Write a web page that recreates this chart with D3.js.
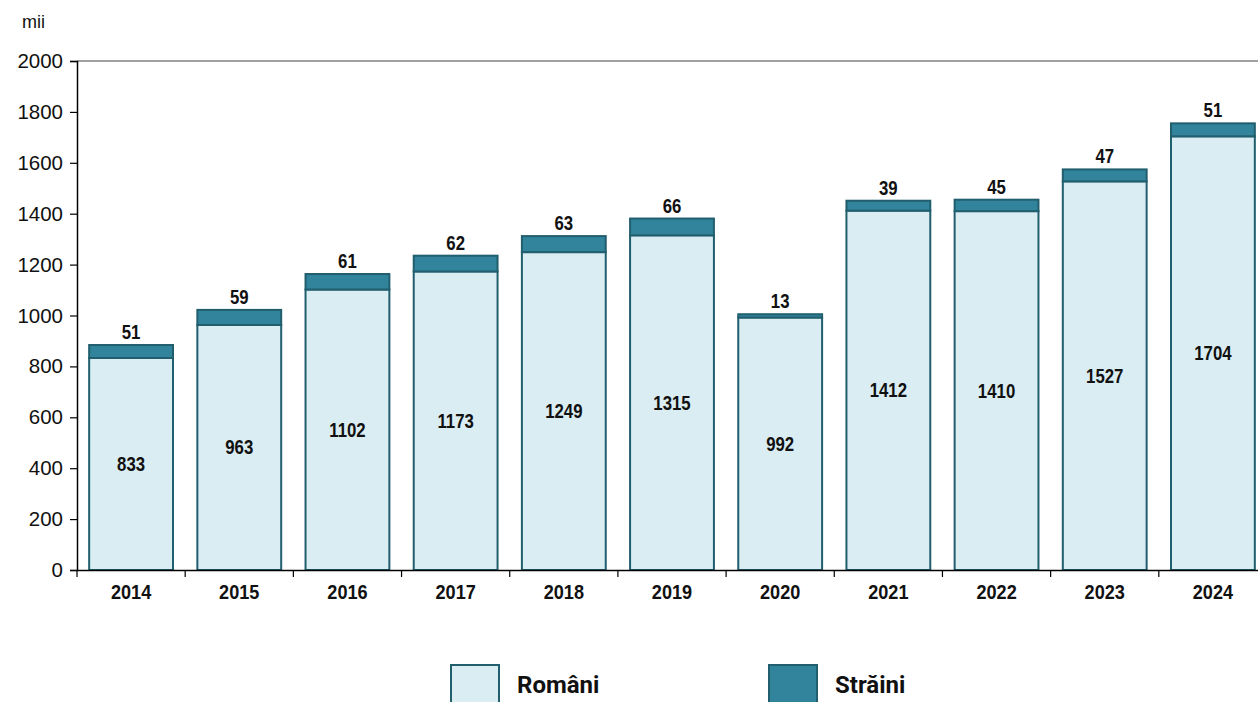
<!DOCTYPE html>
<html><head><meta charset="utf-8">
<script src="https://cdn.jsdelivr.net/npm/d3@7"></script>
<style>
body{margin:0;background:#fff;}
svg{display:block;font-family:"Liberation Sans",Arial,sans-serif;}
</style></head>
<body>
<svg id="c" width="1258" height="702"></svg>
<script>
const years = ["2014","2015","2016","2017","2018","2019","2020","2021","2022","2023","2024"];
const romani = [833,963,1102,1173,1249,1315,992,1412,1410,1527,1704];
const straini = [51,59,61,62,63,66,13,39,45,47,51];
const yTicks = [0,200,400,600,800,1000,1200,1400,1600,1800,2000];
const seriesNames = ["Români","Străini"];
const colors = {light:"#DAEDF3", dark:"#31849B", stroke:"#215E6E"};

(function(){
const svg = d3.select("#c");
const mLeft = 77, mTop = 61, mBottom = 570, mRight = 1267;
const x = d3.scaleBand().domain(years).range([mLeft, mRight]).paddingInner(0.225).paddingOuter(0.1125);
const y = d3.scaleLinear().domain([0,2000]).range([mBottom, mTop]);

// top gridline
svg.append("line").attr("x1",mLeft).attr("x2",1258).attr("y1",y(2000)).attr("y2",y(2000))
  .attr("stroke","#808080").attr("stroke-width",1.5);

const g = svg.append("g");
const valLabel = (gx, gy, txt) => g.append("text")
  .attr("transform",`translate(${gx},${gy}) scale(0.84,1)`)
  .attr("text-anchor","middle").attr("font-size",20).attr("font-weight","bold")
  .attr("fill","#111").text(txt);

// bars
years.forEach((yr,i)=>{
  const bx = x(yr), bw = x.bandwidth();
  g.append("rect").attr("x",bx).attr("y",y(romani[i])).attr("width",bw).attr("height",y(0)-y(romani[i]))
    .attr("fill",colors.light).attr("stroke",colors.stroke).attr("stroke-width",2);
  g.append("rect").attr("x",bx).attr("y",y(romani[i]+straini[i])).attr("width",bw).attr("height",y(romani[i])-y(romani[i]+straini[i]))
    .attr("fill",colors.dark).attr("stroke",colors.stroke).attr("stroke-width",2);
  valLabel(bx+bw/2, y(romani[i]/2)+7, romani[i]);
  valLabel(bx+bw/2, y(romani[i]+straini[i])-6, straini[i]);
});

// y axis
const ya = svg.append("g").attr("transform",`translate(${mLeft},0)`)
  .call(d3.axisLeft(y).tickValues(yTicks).tickFormat(d3.format("d")).tickSize(7).tickPadding(7));
ya.select(".domain").attr("stroke","#000").attr("stroke-width",1.5);
ya.selectAll(".tick line").attr("stroke","#000").attr("stroke-width",1.2);
ya.selectAll("text").attr("font-size",20.5).attr("fill","#111").attr("font-family","Liberation Sans, Arial, sans-serif");

// x axis
const xa = svg.append("g").attr("transform",`translate(0,${mBottom})`)
  .call(d3.axisBottom(x).tickSize(0).tickPadding(15));
xa.select(".domain").attr("stroke","#000").attr("stroke-width",1.5);
xa.selectAll(".tick text").attr("font-size",19.5).attr("font-weight","bold").attr("fill","#111")
  .attr("font-family","Liberation Sans, Arial, sans-serif")
  .attr("style","transform: scaleX(0.93); transform-box: fill-box; transform-origin: center;");

// category boundary ticks
const step = x.step();
const x0 = x(years[0]) - step*x.paddingInner()/2;
const bounds = d3.range(years.length+1).map(k=>x0 + k*step);
svg.append("g").selectAll("line").data(bounds).join("line")
  .attr("x1",d=>d).attr("x2",d=>d).attr("y1",mBottom).attr("y2",mBottom+7)
  .attr("stroke","#000").attr("stroke-width",1.2);

// unit label
svg.append("text").attr("x",22).attr("y",28).attr("font-size",18).attr("fill","#111").text("mii");

// legend
const leg = [{name:seriesNames[0],fill:colors.light,x:451},{name:seriesNames[1],fill:colors.dark,x:769}];
leg.forEach(l=>{
  svg.append("rect").attr("x",l.x).attr("y",665).attr("width",48).attr("height",42)
    .attr("fill",l.fill).attr("stroke",colors.stroke).attr("stroke-width",2);
  svg.append("text").attr("x",l.x+66).attr("y",693).attr("font-size",24).attr("font-weight","bold")
    .attr("font-family","Roboto, Liberation Sans, Arial, sans-serif").attr("fill","#111").text(l.name);
});
})();
</script>
</body></html>
